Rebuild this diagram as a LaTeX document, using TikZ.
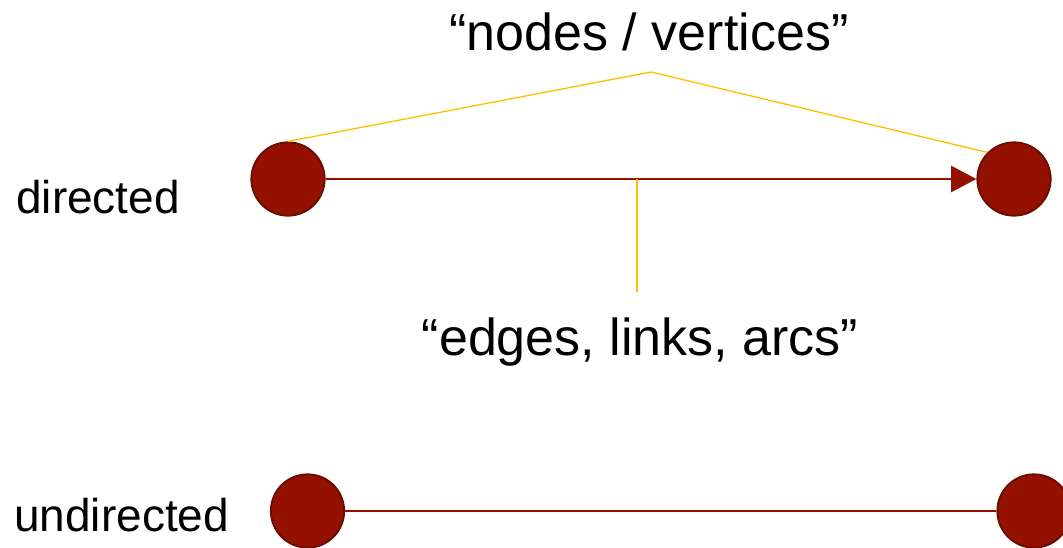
\documentclass[tikz,border=0pt]{standalone}
\usepackage{fontspec}
\setmainfont{Liberation Sans}
\usetikzlibrary{arrows.meta}

\definecolor{vertexfill}{HTML}{941100}
\definecolor{vertexrim}{HTML}{6A0C00}
\definecolor{calloutgold}{HTML}{FFC000}

\tikzset{
  vertex/.style={circle, fill=vertexfill, draw=vertexrim, line width=1.4pt,
                 minimum size=55pt, inner sep=0pt},
  link/.style={draw=vertexfill, line width=2pt},
  callout/.style={draw=calloutgold, line width=1pt},
  biglabel/.style={font=\fontsize{39}{44}\selectfont, inner sep=0pt, anchor=base},
  sidelabel/.style={font=\fontsize{34.5}{40}\selectfont, inner sep=0pt, anchor=base west},
}

\begin{document}
\begin{tikzpicture}[x=0.75pt, y=-0.75pt]
  \path[use as bounding box] (0,0) rectangle (1063,548);

  % directed pair
  \node[vertex] (d1) at (288,179) {};
  \node[vertex] (d2) at (1014,179) {};
  \draw[link, -{Triangle[length=19pt, width=19.5pt]}] (d1) -- (d2);

  % undirected pair
  \node[vertex] (u1) at (307.5,511) {};
  \node[vertex] (u2) at (1034,511) {};
  \draw[link] (u1) -- (u2);

  % side labels
  \node[sidelabel] (ldir) at (16,214) {directed};
  \node[sidelabel] (lundir) at (14,531) {undirected};

  % callout labels
  \node[biglabel] (lnodes) at (649,51) {“nodes / vertices”};
  \node[biglabel] (ledges) at (640,356) {“edges, links, arcs”};

  % callout lines
  \coordinate (apex) at (651,72);
  \draw[callout] (d1.north) -- (apex) -- (d2.north west);
  \coordinate (etop) at (637,179);
  \coordinate (ebot) at (637,292);
  \draw[callout] (etop) -- (ebot);
\end{tikzpicture}
\end{document}
